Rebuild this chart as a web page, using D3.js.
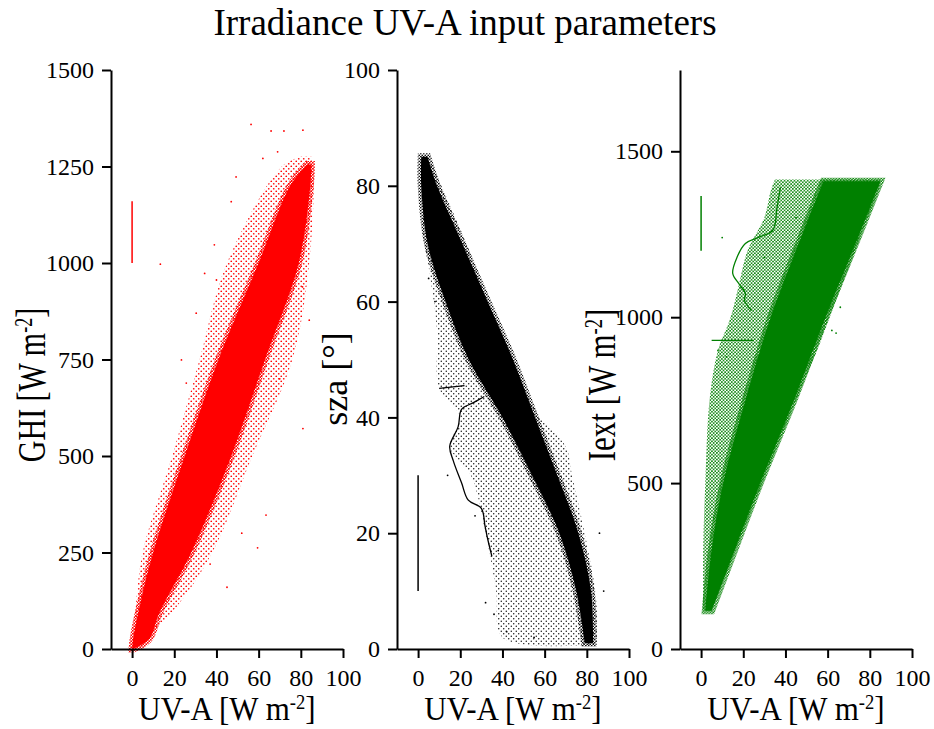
<!DOCTYPE html>
<html>
<head>
<meta charset="utf-8">
<script src="https://cdn.jsdelivr.net/npm/d3@7"></script>
<style>
body { margin: 0; background: #fff; }
text { font-family: "Liberation Serif", "Times New Roman", serif; }
</style>
</head>
<body>
<svg></svg>
<script>
// panel 1: GHI vs UV-A (envelopes)
var ghiRows = [0, 25, 95, 250, 500, 750, 1000, 1200, 1255];
var ghiCoreLeft = [0, 0.5, 3, 10, 25, 41, 60, 75, 83];
var ghiCoreRight = [0.5, 8, 13, 28, 47, 63, 79, 84.5, 85];
var ghiHaloRows = [0, 95, 250, 500, 750, 1000, 1250, 1275];
var ghiHaloLeft = [0, 1.5, 5, 19, 32, 45, 71, 80];
var ghiHaloRight = [1, 19, 38, 57, 76, 84, 86, 85];
var ghiOutliers = [[56.4,1359],[65.9,1342],[72,1342],[81,1344],[69,1288],[62,1271],[49.3,1223],
  [47,1159],[39,1047],[13.4,997],[34.4,973],[40,956],[30.4,870],[23.4,749],[25.7,689],[84,852],
  [80.8,938],[37,220],[59.5,262],[63.5,347],[81,571],[52,300],[45,160],[70,700],[29,530]];
var ghiMarker = [[0,1000],[0,1160]];

// panel 2: sza vs UV-A
var szaRows = [85, 80, 70, 60, 50, 40, 30, 20, 10, 1];
var szaCoreLeft = [1.5, 1.5, 4.5, 13, 24, 40, 54, 67, 75, 79];
var szaCoreRight = [4.5, 9, 21, 33, 45, 55.5, 66, 76, 82, 83];
var szaHaloRows = [85, 70, 66, 55, 45, 40, 35, 30, 20, 10, 2, 0.5];
var szaHaloLeft = [1, 3, 5, 9, 10, 20, 15, 25, 32, 37, 40, 70];
var szaHaloRight = [5, 23, 27, 38, 50, 58, 70, 73, 79, 84, 85, 84];
var szaTrace = [[31.4,43.6],[26,42.5],[20.6,41.4],[19,38.4],[15,35],[16.7,32.5],[20.6,28.7],
  [23.8,25.7],[30,24.3],[31.7,21.3],[33,19],[35,16]];
var szaStreak = [[10,45],[22,45.5]];
var szaOutliers = [[14,30],[27,23],[38,17],[36,6],[32,8],[42,3],[55,2],[88,10],[86,20],[5,64],[8,60]];
var szaMarker = [[0,10],[0,30]];

// panel 3: Iext vs UV-A
var iextRows = [115, 300, 500, 750, 1000, 1250, 1410];
var iextCoreLeft = [2, 5, 10.5, 21, 33, 48, 58];
var iextCoreRight = [5, 16, 28, 44, 59, 75, 85];
var iextHaloRows = [115, 300, 500, 750, 900, 1000, 1100, 1200, 1300, 1380, 1415];
var iextHaloLeft = [1, 1, 2, 4, 8, 14, 18, 22, 30, 33, 35];
var iextHaloRight = [5, 16.5, 29, 45, 55, 61, 67, 73, 79, 84, 85];
var iextTrace = [[37.6,1391],[36,1330],[34,1262],[27,1240],[21,1222],[17,1180],[15,1132],
  [18,1100],[21,1072],[20.6,1050],[24,1020]];
var iextStreak = [[5,930],[25,930]];
var iextOutliers = [[64,952],[62,960],[66,1030],[10,1240],[8,900],[12,880],[30,1180],[45,1300]];
var iextMarker = [[0,1200],[0,1365]];

var xTicks = [0, 20, 40, 60, 80, 100];

var svg = d3.select("svg").attr("width", 934).attr("height", 729);
var defs = svg.append("defs");

var addPattern = function(id, color, step, r) {
  var p = defs.append("pattern").attr("id", id)
    .attr("width", step).attr("height", step)
    .attr("patternUnits", "userSpaceOnUse");
  p.append("circle").attr("cx", step * 0.25).attr("cy", step * 0.25).attr("r", r).attr("fill", color);
  p.append("circle").attr("cx", step * 0.75).attr("cy", step * 0.75).attr("r", r).attr("fill", color);
};
addPattern("dotRed", "#f00", 5, 0.85);
addPattern("dotRedDense", "#f00", 3, 0.9);
addPattern("dotBlack", "#000", 5, 0.7);
addPattern("dotBlackDense", "#000", 3, 0.8);
addPattern("dotGreen", "#008000", 3.3, 0.9);
addPattern("dotGreenDense", "#008000", 2.8, 0.9);

svg.append("text").attr("x", 465).attr("y", 35)
  .attr("text-anchor", "middle").attr("font-size", 37)
  .text("Irradiance UV-A input parameters");

var unitLabel = function(sel, name) {
  sel.append("tspan").text(name + " [W m");
  sel.append("tspan").attr("font-size", "0.6em").attr("dy", "-0.55em").text("-2");
  sel.append("tspan").attr("dy", "0.3em").text("]");
};

var drawPanel = function(opt) {
  var x = d3.scaleLinear().domain([-10, 100]).range([opt.left, opt.left + 232]);
  var y = d3.scaleLinear().domain([0, opt.ymax]).range([649, 70]);
  var g = svg.append("g");

  var area = d3.area()
    .curve(d3.curveCatmullRom)
    .y(function(d) { return y(d[0]); })
    .x0(function(d) { return x(d[1]); })
    .x1(function(d) { return x(d[2]); });

  var halo = opt.haloRows.map(function(v, i) { return [v, opt.haloLeft[i], opt.haloRight[i]]; });
  var core = opt.rows.map(function(v, i) { return [v, opt.coreLeft[i], opt.coreRight[i]]; });

  g.append("path").datum(halo).attr("d", area).attr("fill", "url(#" + opt.pattern + ")");
  g.append("path").datum(core).attr("d", area).attr("fill", opt.color)
    .attr("stroke", "url(#" + opt.pattern + "Dense)").attr("stroke-width", 7);

  var line = d3.line()
    .x(function(d) { return x(d[0]); })
    .y(function(d) { return y(d[1]); });

  (opt.traces || []).forEach(function(t) {
    g.append("path").datum(t).attr("d", line.curve(d3.curveCatmullRom))
      .attr("fill", "none").attr("stroke", opt.color).attr("stroke-width", 1.3);
  });

  g.selectAll("circle.out")
    .data(opt.outliers || [])
    .enter()
    .append("circle")
    .attr("class", "out")
    .attr("cx", function(d) { return x(d[0]); })
    .attr("cy", function(d) { return y(d[1]); })
    .attr("r", 0.9)
    .attr("fill", opt.color);

  g.append("path").datum(opt.marker).attr("d", line.curve(d3.curveLinear))
    .attr("stroke", opt.color).attr("stroke-width", 1.5);

  var yAxis = g.append("g").attr("transform", "translate(" + opt.left + ",0)")
    .call(d3.axisLeft(y).tickValues(opt.yTicks).tickFormat(d3.format("d"))
      .tickSize(9).tickSizeOuter(0).tickPadding(8));
  var xAxis = g.append("g").attr("transform", "translate(0,649)")
    .call(d3.axisBottom(x).tickValues(xTicks).tickFormat(d3.format("d"))
      .tickSize(9).tickSizeOuter(0).tickPadding(11));
  [yAxis, xAxis].forEach(function(a) {
    a.selectAll("path, line").attr("stroke", "#000").attr("stroke-width", 2);
    a.selectAll("text").attr("font-size", 24).attr("font-family", "Liberation Serif").attr("fill", "#000");
  });

  var xl = g.append("text")
    .attr("transform", "translate(" + x(45) + ",720) scale(1,1.12)")
    .attr("text-anchor", "middle").attr("font-size", 31);
  unitLabel(xl, "UV-A");

  var yl = g.append("text")
    .attr("transform", "translate(" + opt.ylx + "," + opt.yly + ") rotate(-90) scale(1," + opt.yls + ")")
    .attr("text-anchor", "middle").attr("font-size", opt.ylf);
  if (opt.yname === "sza") {
    yl.text("sza [°]");
  } else {
    unitLabel(yl, opt.yname);
  }
};

drawPanel({
  left: 111, ymax: 1500, yTicks: [0, 250, 500, 750, 1000, 1250, 1500],
  rows: ghiRows, coreLeft: ghiCoreLeft, coreRight: ghiCoreRight,
  haloRows: ghiHaloRows, haloLeft: ghiHaloLeft, haloRight: ghiHaloRight,
  outliers: ghiOutliers, marker: ghiMarker,
  color: "#f00", pattern: "dotRed", yname: "GHI", ylx: 45, yly: 385, ylf: 30, yls: 1.35
});

drawPanel({
  left: 397, ymax: 100, yTicks: [0, 20, 40, 60, 80, 100],
  rows: szaRows, coreLeft: szaCoreLeft, coreRight: szaCoreRight,
  haloRows: szaHaloRows, haloLeft: szaHaloLeft, haloRight: szaHaloRight,
  traces: [szaTrace, szaStreak], outliers: szaOutliers, marker: szaMarker,
  color: "#000", pattern: "dotBlack", yname: "sza", ylx: 347, yly: 379, ylf: 36, yls: 1
});

drawPanel({
  left: 680, ymax: 1745, yTicks: [0, 500, 1000, 1500],
  rows: iextRows, coreLeft: iextCoreLeft, coreRight: iextCoreRight,
  haloRows: iextHaloRows, haloLeft: iextHaloLeft, haloRight: iextHaloRight,
  traces: [iextTrace, iextStreak], outliers: iextOutliers, marker: iextMarker,
  color: "#008000", pattern: "dotGreen", yname: "Iext", ylx: 615, yly: 385, ylf: 31, yls: 1.3
});
</script>
</body>
</html>
